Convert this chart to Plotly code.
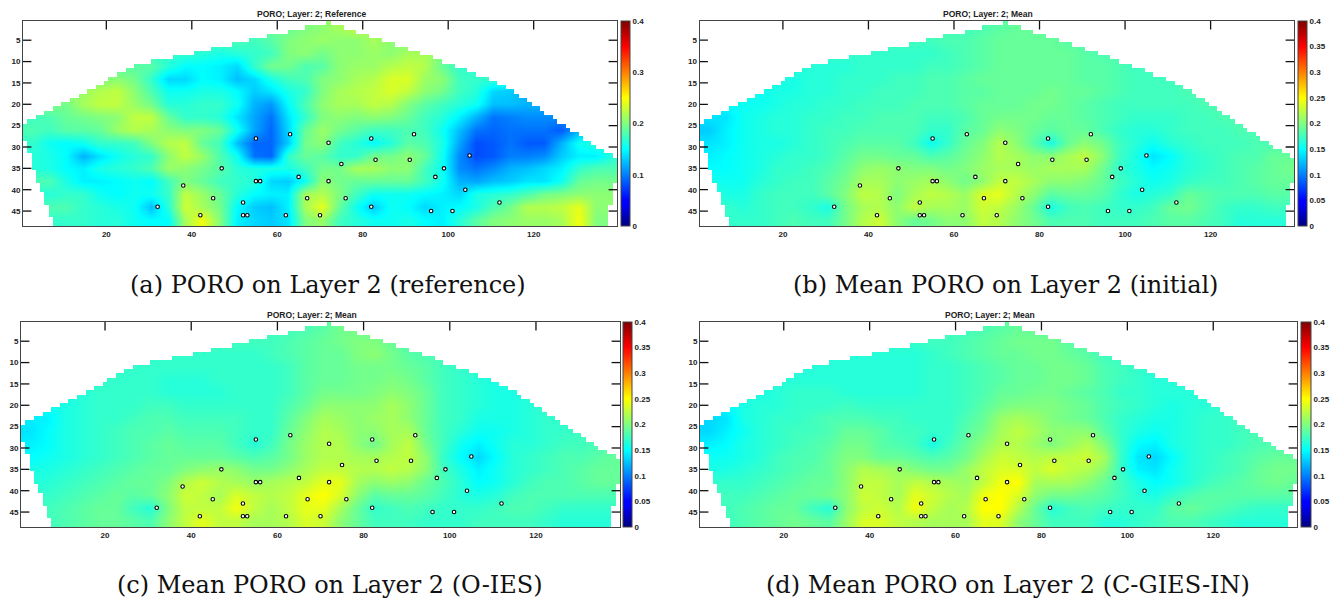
import numpy as np
import plotly.graph_objects as go

# Grid outline: first and last active row per column (139 columns)
top_row = [25,24,24,23,23,22,22,21,21,20,20,19,19,18,18,17,17,16,16,15,14,14,13,13,12,12,11,11,11,11,
           10,10,10,10,10,9,9,9,9,9,8,8,8,8,7,7,7,7,7,6,6,6,6,5,5,5,5,4,4,4,4,4,3,3,3,3,2,2,2,2,2,1,
           2,2,2,3,3,3,4,4,4,5,5,5,6,6,6,7,7,7,8,8,8,9,9,9,10,10,11,11,11,12,12,12,13,13,14,14,14,15,15,
           16,16,17,17,18,19,19,20,21,21,22,23,23,24,25,25,26,27,27,28,29,29,30,31,31,32,32,33]
bottom_row = [28,31,35,38,40,43,46] + [48]*130 + [43,38]

# Well locations (column, row)
well_col = [32,38,42,45,47,52,52,53,55,55,56,62,63,65,67,70,72,72,75,76,82,82,83,91,92,96,97,99,101,104,105,112]
well_row = [44,39,46,42,35,43,46,46,28,38,38,46,27,37,42,46,29,38,34,42,28,44,33,33,27,45,37,35,45,40,32,43]

# Positions at which the PORO values below were read
sample_cols = [2.5,6.5,10.5,14.5,18.5,22.5,26.5,30.5,34.5,38.5,42.5,46.5,50.5,54.5,58.5,62.5,66.5,70.5,74.5,78.5,
               82.5,86.5,90.5,94.5,98.5,102.5,106.5,110.5,114.5,118.5,122.5,126.5,130.5,134.5,138.5]
sample_rows = [2,5,8,11,14,17,20,23,26,29,32,35,38,41,44,47]

# PORO values x1000
poro_reference = [
[190,190,190,190,190,190,190,190,190,190,190,190,190,190,190,190,200,205,215,225,205,200,200,200,200,200,200,200,200,200,200,200,200,200,200],
[180,180,180,180,180,180,180,180,180,180,180,180,180,175,185,200,205,210,205,205,215,205,200,200,200,200,200,200,200,200,200,200,200,200,200],
[170,170,170,170,170,170,170,170,170,170,165,160,165,170,175,200,205,195,205,205,210,205,215,215,200,200,200,200,200,200,200,200,200,200,200],
[185,185,185,185,185,185,185,185,165,150,150,145,135,170,195,195,180,185,205,210,210,220,225,220,190,170,170,170,170,170,170,170,170,170,170],
[200,200,200,200,200,205,195,170,135,135,150,145,125,135,160,175,180,200,205,215,220,235,235,210,205,175,170,170,170,170,170,170,170,170,170],
[210,210,210,210,220,225,205,180,155,155,160,160,150,130,140,160,170,200,215,220,225,235,225,205,195,175,165,135,130,120,120,120,120,120,120],
[200,200,195,215,225,225,210,195,165,165,170,170,155,120,110,150,180,205,215,215,225,220,200,185,175,165,155,125,125,120,120,120,120,120,120],
[175,180,190,195,200,205,225,225,190,170,170,165,140,115,95,140,170,200,205,200,205,200,190,175,165,145,120,95,100,105,105,105,105,105,105],
[180,175,185,185,190,210,220,215,205,200,200,190,155,115,90,135,190,210,195,185,175,175,180,175,155,125,95,90,95,95,95,85,120,120,120],
[170,155,150,155,170,170,175,200,220,225,190,175,125,90,90,130,195,205,175,165,150,165,185,180,160,115,80,85,95,85,85,120,155,165,165],
[165,160,150,120,140,155,165,170,205,225,210,180,155,95,90,170,190,185,170,170,195,195,205,190,155,105,80,85,100,100,105,130,145,145,165],
[165,160,150,145,160,165,170,180,210,205,195,185,165,160,160,160,175,195,195,215,215,205,205,175,155,105,95,105,120,125,135,145,170,180,180],
[180,180,160,145,145,150,155,150,175,200,190,175,170,165,135,130,155,205,195,190,190,190,190,175,155,120,115,125,130,140,140,155,190,195,195],
[165,165,170,170,155,150,155,155,170,225,210,190,165,150,145,145,215,220,200,175,155,155,155,150,145,135,160,165,170,180,195,200,205,205,205],
[180,180,180,170,165,160,155,125,165,230,215,195,150,130,125,145,215,240,190,155,130,155,150,135,145,150,160,180,195,220,220,225,240,205,205],
[170,170,170,170,165,165,155,150,150,215,245,200,145,135,130,140,200,210,175,165,155,155,160,150,145,165,185,200,205,210,210,215,245,200,200],
]
poro_initial = [
[175,175,175,175,175,175,175,175,175,175,175,175,175,175,175,175,180,185,190,190,185,180,180,180,180,180,180,180,180,180,180,180,180,180,180],
[175,175,175,175,175,175,175,175,175,175,175,175,175,175,180,180,185,190,190,190,190,185,180,180,180,180,180,180,180,180,180,180,180,180,180],
[170,170,170,170,170,170,170,170,170,170,170,170,170,170,175,180,185,190,190,190,190,190,185,180,180,175,175,175,175,175,175,175,175,175,175],
[165,165,165,165,165,165,165,165,165,170,170,170,170,175,175,180,185,190,190,190,190,190,185,185,180,175,175,175,175,175,175,175,175,175,175],
[160,160,160,160,160,160,165,165,170,170,170,175,175,180,180,185,190,190,190,190,190,190,185,185,180,175,175,175,175,175,175,175,175,175,175],
[155,155,155,155,160,160,165,165,170,170,175,175,175,180,180,185,185,190,190,190,195,190,190,185,180,175,175,175,180,180,180,180,180,180,180],
[150,150,155,155,160,165,165,170,170,175,175,175,180,180,180,185,190,190,190,195,195,190,185,180,175,175,175,175,175,180,180,180,180,180,180],
[140,140,155,160,165,165,170,170,175,175,180,180,180,175,175,180,190,195,195,195,190,190,185,180,175,170,170,170,175,175,180,180,180,180,180],
[130,145,155,160,165,165,170,175,175,180,180,180,180,170,170,185,190,205,200,190,185,190,190,180,170,165,165,170,175,175,175,180,180,180,180],
[140,145,155,160,160,165,170,175,180,185,185,185,175,155,170,190,200,220,205,185,160,190,205,195,175,165,155,165,170,175,175,175,180,180,180],
[145,150,155,160,165,170,170,175,185,195,195,190,190,180,185,195,205,220,215,205,205,215,225,205,175,160,140,150,165,170,175,180,180,190,190],
[150,150,155,160,170,170,175,180,190,205,210,205,200,200,195,200,210,215,215,210,215,215,215,195,170,160,150,155,165,170,175,180,185,190,195],
[160,155,155,165,170,175,175,185,195,215,215,205,210,215,205,195,205,225,225,215,205,205,200,190,175,165,155,160,170,175,175,180,185,190,190],
[165,160,160,170,175,175,175,185,200,225,220,200,215,225,220,210,235,240,220,205,185,190,190,185,170,160,165,170,190,185,180,180,180,185,185],
[170,170,165,170,175,175,170,160,195,215,220,205,225,215,215,210,230,225,210,190,160,175,180,175,170,170,175,190,195,185,175,170,170,175,175],
[170,170,170,170,175,180,175,175,195,220,230,205,190,195,205,205,225,220,205,195,180,180,180,175,175,175,180,185,185,180,175,165,165,165,165],
]
poro_oies = [
[175,175,175,175,175,175,175,175,175,175,175,175,175,175,175,175,180,185,195,195,185,180,180,180,180,180,180,180,180,180,180,180,180,180,180],
[175,175,175,175,175,175,175,175,175,175,175,175,175,175,175,180,185,190,195,200,200,190,180,175,175,175,175,175,175,175,175,175,175,175,175],
[170,170,170,170,170,170,170,170,170,170,170,170,170,170,175,180,185,190,190,200,205,195,185,180,175,170,170,170,170,170,170,170,170,170,170],
[170,170,170,170,170,170,170,170,170,170,170,170,170,170,170,175,185,190,190,195,195,195,190,185,175,170,170,165,165,165,165,165,165,165,165],
[165,165,165,165,170,170,170,170,165,165,165,170,170,170,170,175,185,190,190,195,195,200,195,185,175,170,165,160,165,165,165,165,165,165,165],
[160,160,160,165,170,170,170,170,165,165,165,165,170,170,170,175,185,195,195,195,200,205,200,190,175,170,165,160,160,165,165,165,165,165,165],
[150,155,160,165,170,170,170,175,175,170,170,170,170,170,170,180,190,205,205,205,205,215,205,190,175,170,165,160,160,165,170,170,170,170,170],
[145,145,160,165,170,170,175,180,180,175,175,175,175,170,170,185,200,215,210,205,210,215,205,190,175,170,160,160,160,165,170,170,175,175,175],
[140,150,160,165,170,175,180,180,185,180,180,180,175,170,170,190,205,220,215,205,205,215,215,190,175,165,155,155,160,165,170,170,175,175,175],
[145,150,160,165,170,175,180,185,190,185,185,185,175,165,175,195,210,220,220,205,195,215,225,195,175,155,145,155,165,165,170,175,175,180,180],
[150,155,160,165,170,175,180,185,190,190,190,190,185,180,185,195,210,220,220,215,215,220,225,205,170,150,135,150,165,170,175,180,180,185,190],
[160,160,165,170,175,180,185,190,190,200,205,210,205,195,195,205,215,225,225,220,220,225,220,205,175,160,145,155,165,170,175,180,185,190,190],
[165,165,170,175,180,185,190,190,200,220,230,220,215,210,215,220,225,240,240,215,205,210,205,190,180,165,150,155,165,175,180,180,185,190,190],
[170,170,175,180,185,190,185,190,205,230,225,215,235,225,220,225,240,250,235,205,185,190,190,185,175,165,160,165,175,180,180,180,180,180,180],
[175,175,180,185,190,190,175,165,200,225,225,225,245,225,215,225,240,240,215,190,170,175,180,175,170,170,170,175,180,180,175,170,170,170,170],
[175,175,180,185,190,190,185,180,205,225,240,225,225,215,215,220,235,230,205,190,175,175,175,170,170,170,175,175,175,175,170,165,165,165,165],
]
poro_cgies = [
[175,175,175,175,175,175,175,175,175,175,175,175,175,175,175,175,180,185,190,190,185,180,180,180,180,180,180,180,180,180,180,180,180,180,180],
[170,170,170,170,170,170,170,170,170,170,170,170,170,175,175,180,185,190,195,195,195,185,180,175,175,175,175,175,175,175,175,175,175,175,175],
[165,165,165,165,165,165,165,165,165,165,165,165,165,170,175,180,185,190,190,195,195,190,185,175,170,170,170,170,170,170,170,170,170,170,170],
[165,165,165,165,165,165,165,165,165,165,165,165,165,170,170,175,180,185,190,190,195,195,190,180,175,170,165,165,165,165,165,165,165,165,165],
[160,160,160,160,165,165,165,165,165,165,165,165,165,170,170,175,180,185,190,190,195,195,190,180,175,170,165,165,165,165,165,165,165,165,165],
[160,160,160,160,165,170,170,170,165,165,165,165,165,170,170,175,180,190,190,195,195,190,185,180,170,170,165,165,165,165,170,170,170,170,170],
[150,150,160,165,165,170,170,170,175,170,170,170,170,170,170,175,185,195,200,200,200,195,190,180,175,170,165,160,165,165,170,170,170,170,170],
[135,140,160,165,170,170,175,180,180,180,175,175,170,170,170,180,190,210,215,210,200,195,190,180,170,165,160,160,165,170,170,175,175,175,175],
[135,145,155,165,170,175,175,180,190,190,185,175,175,170,170,185,195,215,225,215,205,205,205,185,170,160,155,160,165,170,170,175,180,180,180],
[145,150,160,165,170,175,180,185,195,195,185,180,175,160,175,190,205,220,220,210,200,210,220,200,170,150,145,160,165,170,170,175,180,180,180],
[155,155,160,165,175,180,180,190,200,200,190,190,185,180,185,195,215,230,225,220,225,225,230,215,170,140,135,150,165,170,175,180,185,190,190],
[160,160,165,170,175,180,185,190,205,220,215,210,200,195,195,210,225,235,235,225,235,225,220,205,170,145,140,155,165,170,175,180,190,195,195],
[170,170,170,175,180,185,190,190,205,225,225,215,225,220,215,210,225,245,250,215,215,215,205,190,175,160,150,155,165,175,180,185,190,195,190],
[175,175,175,180,185,190,190,195,205,230,225,215,240,230,220,215,245,250,235,205,195,195,190,185,175,165,160,170,180,185,185,185,185,185,185],
[175,175,180,185,190,190,175,165,205,225,230,220,245,225,215,220,250,250,220,190,165,175,180,175,170,170,170,185,190,185,180,175,170,170,170],
[175,175,180,185,190,195,190,185,210,235,235,225,220,215,215,215,240,235,205,190,175,175,175,165,165,170,175,180,180,175,170,165,165,165,165],
]

titles = ["PORO; Layer: 2; Reference", "PORO; Layer: 2; Mean", "PORO; Layer: 2; Mean", "PORO; Layer: 2; Mean"]
captions = ["(a) PORO on Layer 2 (reference)", "(b) Mean PORO on Layer 2 (initial)",
            "(c) Mean PORO on Layer 2 (O-IES)", "(d) Mean PORO on Layer 2 (C-GIES-IN)"]
x_ticks = [20, 40, 60, 80, 100, 120]
y_ticks = [5, 10, 15, 20, 25, 30, 35, 40, 45]
left_marks = [5, 10, 15, 20, 30, 35, 40, 45]
right_marks = [5, 10, 15, 20, 25, 30, 40, 45]
cbar_ticks_a = [0, 0.1, 0.2, 0.3, 0.4]
cbar_labels_a = ["0", "0.1", "0.2", "0.3", "0.4"]
cbar_ticks = [0, 0.05, 0.1, 0.15, 0.2, 0.25, 0.3, 0.35, 0.4]
cbar_labels = ["0", "0.05", "0.1", "0.15", "0.2", "0.25", "0.3", "0.35", "0.4"]

W, H = 1331, 601
# left, right, top, bottom, cbar left, cbar right, title cx, title y, caption cx, caption y
panels = [
    (23, 617, 21, 226, 621, 630, 311, 14, 328, 285),
    (699.5, 1294, 21, 226, 1298, 1307, 988, 14, 1006, 285),
    (21, 620, 322, 527, 623, 632, 312, 315, 330, 585),
    (700, 1297, 322, 527, 1300.5, 1310, 990, 315, 1008, 585),
]
jet = [[0, "rgb(0,0,127)"], [0.11, "rgb(0,0,255)"], [0.125, "rgb(0,0,255)"], [0.375, "rgb(0,255,255)"],
       [0.625, "rgb(255,255,0)"], [0.875, "rgb(255,0,0)"], [1, "rgb(127,0,0)"]]
tick_font = dict(family="Liberation Sans", size=8, color="#222", weight="bold")
frame = "#444"

# Cells outside the reservoir outline are painted white over the field
outside = np.full((48, 139), np.nan)
for c in range(139):
    outside[:top_row[c] - 1, c] = 1
    outside[bottom_row[c]:, c] = 1

fig = go.Figure()
cols = list(range(1, 140))
rows = list(range(1, 49))
x_range = [0.5, 139.5]
y_range = [48.5, 0.5]


def tick_marks(xs, ys, symbol, n):
    # Half of each mark is clipped at the frame, leaving an inward tick over the white background
    return go.Scatter(x=xs, y=ys, mode="markers", xaxis="x" + n, yaxis="y" + n, showlegend=False,
                      hoverinfo="skip", cliponaxis=True,
                      marker=dict(symbol=symbol, size=12, line=dict(color="#111", width=1.3)))


for i, blocks in enumerate([poro_reference, poro_initial, poro_oies, poro_cgies]):
    L, R, T, B, CL, CR, tx, ty, cx, cy = panels[i]
    n = "" if i == 0 else str(i + 1)
    fig.add_trace(go.Heatmap(
        z=np.array(blocks, float) / 1000, x=sample_cols, y=sample_rows, xaxis="x" + n, yaxis="y" + n,
        colorscale=jet, zmin=0, zmax=0.4, zsmooth="best",
        colorbar=dict(
            x=CL / W, xanchor="left", xpad=0, y=1 - T / H, yanchor="top", ypad=0,
            thickness=CR - CL, thicknessmode="pixels", len=(B - T) / H, lenmode="fraction",
            tickvals=cbar_ticks_a if i == 0 else cbar_ticks,
            ticktext=cbar_labels_a if i == 0 else cbar_labels,
            ticks="", tickfont=tick_font, outlinewidth=1, outlinecolor=frame,
        ),
    ))
    fig.add_trace(go.Heatmap(
        z=outside, x=cols, y=rows, xaxis="x" + n, yaxis="y" + n, showscale=False, zmin=0, zmax=1,
        colorscale=[[0, "white"], [1, "white"]], hoverinfo="skip", zsmooth=False,
    ))
    fig.add_trace(go.Scatter(
        x=well_col, y=well_row, mode="markers", xaxis="x" + n, yaxis="y" + n, showlegend=False,
        marker=dict(size=3.5, color="white", line=dict(color="black", width=1.1)),
    ))
    fig.add_trace(tick_marks(x_ticks, [y_range[1]] * len(x_ticks), "line-ns", n))
    fig.add_trace(tick_marks([x_range[0]] * len(left_marks), left_marks, "line-ew", n))
    fig.add_trace(tick_marks([x_range[1]] * len(right_marks), right_marks, "line-ew", n))
    line = dict(showline=True, linecolor=frame, linewidth=1, mirror=True, showgrid=False, zeroline=False)
    fig.update_layout({
        "xaxis" + n: dict(domain=[L / W, R / W], range=x_range, tickvals=x_ticks, ticks="",
                          tickfont=tick_font, anchor="y" + n, **line),
        "yaxis" + n: dict(domain=[1 - B / H, 1 - T / H], range=y_range, tickvals=y_ticks, ticks="",
                          tickfont=tick_font, anchor="x" + n, **line),
    })
    fig.add_annotation(text=titles[i], x=tx / W, y=1 - ty / H, xref="paper", yref="paper",
                       showarrow=False, xanchor="center", yanchor="middle",
                       font=dict(family="Liberation Sans", size=8.5, color="#222", weight="bold"))
    fig.add_annotation(text=captions[i], x=cx / W, y=1 - cy / H, xref="paper", yref="paper",
                       showarrow=False, xanchor="center", yanchor="middle",
                       font=dict(family="DejaVu Serif", size=24, color="#111"))

fig.update_layout(width=W, height=H, margin=dict(l=0, r=0, t=0, b=0), showlegend=False,
                  plot_bgcolor="white", paper_bgcolor="white")
fig.write_html("out.html", config={"displayModeBar": False},
               post_script="document.body.style.margin='0';")
